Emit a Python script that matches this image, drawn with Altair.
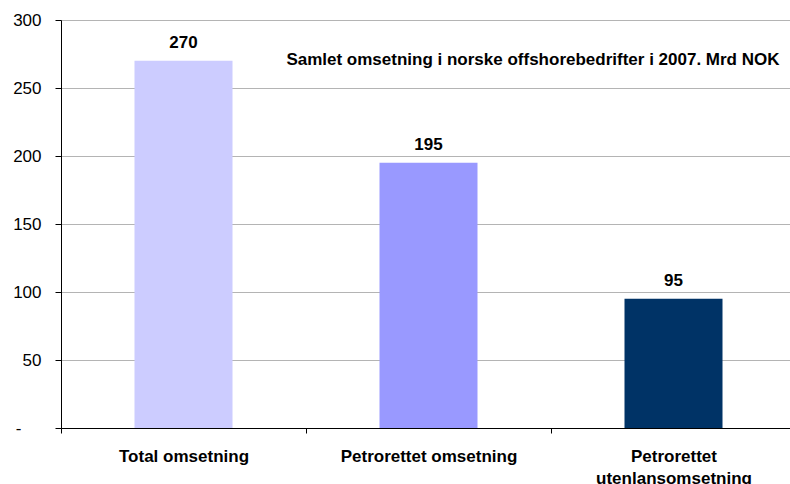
import altair as alt
import pandas as pd

categories = ["Total omsetning", "Petrorettet omsetning", "Petrorettet utenlansomsetning"]
values = [270, 195, 95]
colors = ["#CCCCFF", "#9999FF", "#003366"]
y_ticks = [0, 50, 100, 150, 200, 250, 300]

df = pd.DataFrame({"kategori": categories, "mrd": values})

FONT = "Liberation Sans"
SIZE = 17

x_enc = alt.X(
    "kategori:N",
    sort=categories,
    title=None,
    scale=alt.Scale(range=[0, 735], paddingInner=0, paddingOuter=0),
    axis=alt.Axis(
        domainColor="#000000",
        tickColor="#000000",
        tickSize=5,
        tickBand="extent",
        labelAngle=0,
        labelFont=FONT,
        labelFontSize=SIZE,
        labelFontWeight="bold",
        labelColor="#000000",
        labelPadding=28,
        labelBaseline="alphabetic",
        labelLineHeight=22,
        labelExpr="datum.label == 'Petrorettet utenlansomsetning' ? ['Petrorettet', 'utenlansomsetning'] : datum.label",
        grid=False,
    ),
)

y_enc = alt.Y(
    "mrd:Q",
    title=None,
    scale=alt.Scale(domain=[0, 300], nice=False),
    axis=alt.Axis(
        values=y_ticks,
        domainColor="#000000",
        tickColor="#000000",
        tickSize=6,
        labelFont=FONT,
        labelFontSize=SIZE,
        labelColor="#000000",
        # zero is shown as a dash, set further out like an accounting format
        labelPadding={"condition": {"test": "datum.value === 0", "value": 34}, "value": 14},
        labelExpr="datum.value == 0 ? '-' : datum.label",
        gridColor="#b4b4b4",
        gridWidth=1,
    ),
)

bars = alt.Chart(df).mark_bar(width={"band": 0.4}).encode(
    x=x_enc,
    y=y_enc,
    color=alt.Color("kategori:N", scale=alt.Scale(domain=categories, range=colors), legend=None),
)

labels = alt.Chart(df).mark_text(
    font=FONT, fontSize=SIZE, fontWeight="bold", color="#000000", baseline="alphabetic", dy=-13
).encode(
    x=alt.X("kategori:N", sort=categories),
    y="mrd:Q",
    text="mrd:Q",
)

chart = alt.layer(bars, labels).properties(
    width=729,
    height=408,
    padding={"left": 61, "top": 20, "right": 0, "bottom": 56},
    autosize=alt.AutoSizeParams(type="none"),
    title=alt.TitleParams(
        "Samlet omsetning i norske offshorebedrifter i 2007. Mrd NOK",
        anchor="end",
        font=FONT,
        fontSize=SIZE,
        fontWeight="bold",
        color="#000000",
        orient="top",
        offset=0,
        dx=-17,
        dy=58,
    ),
).configure_view(stroke=None).configure(background="white")

chart.save("out.html", embed_options={"renderer": "svg", "actions": False})
